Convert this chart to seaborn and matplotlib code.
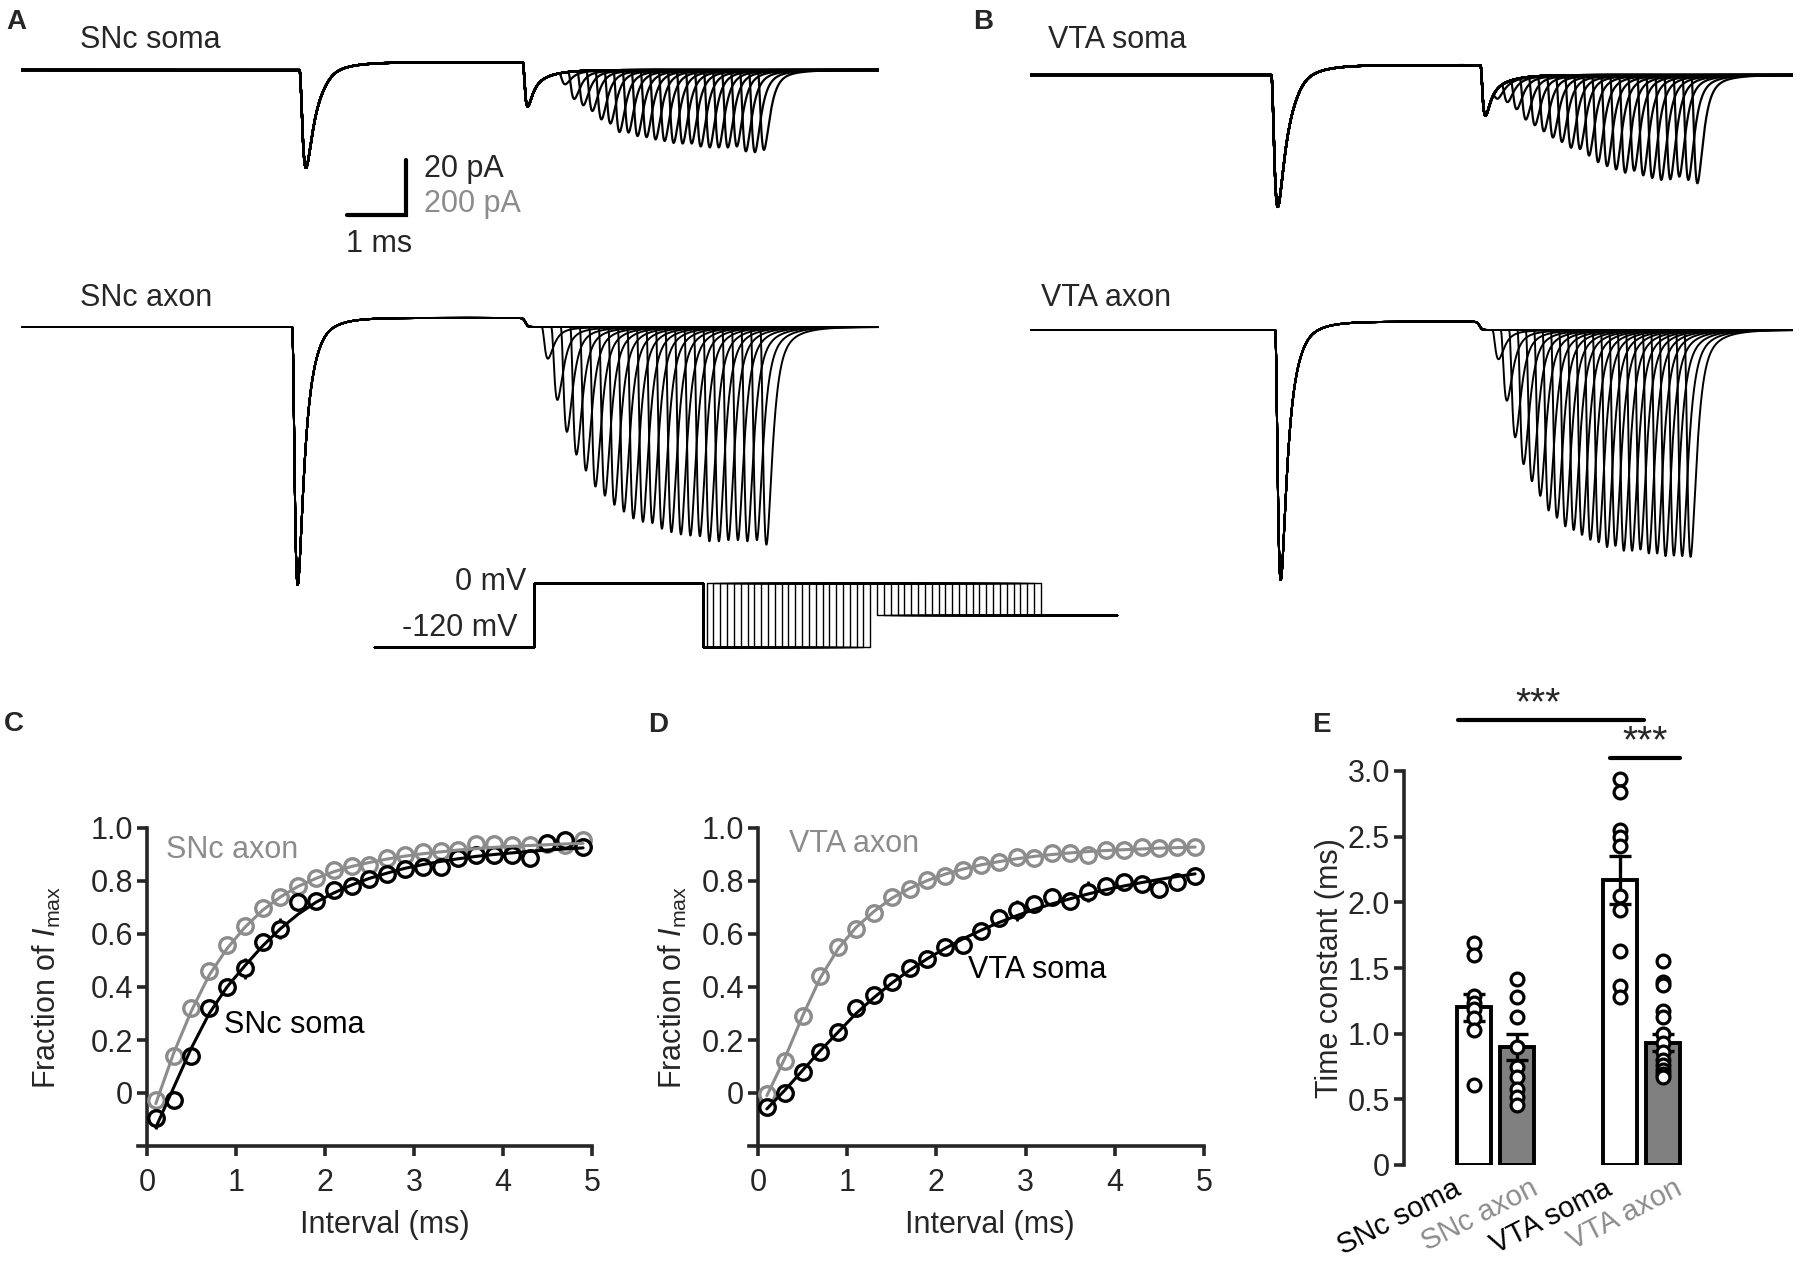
import numpy as np
import pandas as pd
import matplotlib
matplotlib.use("Agg")
import matplotlib.pyplot as plt
import seaborn as sns

# ------------------------------------------------------------------ data
interval_ms = [0.1, 0.3, 0.5, 0.7, 0.9, 1.1, 1.3, 1.5, 1.7, 1.9, 2.1, 2.3, 2.5,
               2.7, 2.9, 3.1, 3.3, 3.5, 3.7, 3.9, 4.1, 4.3, 4.5, 4.7, 4.9]

# panel C
snc_axon_frac = [-0.027, 0.139, 0.32, 0.46, 0.56, 0.63, 0.70, 0.74, 0.78, 0.81, 0.84, 0.855, 0.86,
                 0.885, 0.90, 0.91, 0.915, 0.918, 0.94, 0.94, 0.935, 0.935, 0.94, 0.935, 0.955]
snc_axon_sem = [0.015, 0.02, 0.02, 0.03, 0.02, 0.02, 0.015, 0.015, 0.015, 0.015, 0.01, 0.01, 0.01,
                0.01, 0.01, 0.01, 0.01, 0.01, 0.01, 0.01, 0.01, 0.01, 0.01, 0.01, 0.01]
snc_axon_fit = [-0.04, 0.15, 0.31, 0.445, 0.545, 0.625, 0.69, 0.74, 0.78, 0.81, 0.835, 0.855, 0.87,
                0.883, 0.894, 0.903, 0.91, 0.917, 0.922, 0.927, 0.931, 0.934, 0.937, 0.94, 0.942]
snc_soma_frac = [-0.095, -0.026, 0.138, 0.32, 0.40, 0.47, 0.57, 0.62, 0.72, 0.726, 0.767, 0.78, 0.807,
                 0.825, 0.847, 0.854, 0.854, 0.888, 0.90, 0.90, 0.90, 0.888, 0.945, 0.955, 0.928]
snc_soma_sem = [0.04, 0.02, 0.03, 0.02, 0.02, 0.04, 0.03, 0.04, 0.02, 0.02, 0.02, 0.02, 0.02,
                0.02, 0.02, 0.02, 0.02, 0.02, 0.02, 0.02, 0.02, 0.02, 0.02, 0.02, 0.02]
snc_soma_fit = [-0.13, 0.02, 0.17, 0.30, 0.40, 0.48, 0.555, 0.62, 0.675, 0.72, 0.755, 0.785, 0.81,
                0.83, 0.848, 0.862, 0.874, 0.884, 0.893, 0.90, 0.906, 0.912, 0.917, 0.921, 0.925]

# panel D
vta_axon_frac = [-0.005, 0.12, 0.29, 0.44, 0.55, 0.62, 0.68, 0.74, 0.77, 0.805, 0.82, 0.84, 0.86,
                 0.87, 0.89, 0.885, 0.905, 0.905, 0.90, 0.916, 0.916, 0.927, 0.925, 0.927, 0.93]
vta_axon_sem = [0.01] * 25
vta_axon_fit = [-0.01, 0.13, 0.29, 0.435, 0.545, 0.625, 0.685, 0.735, 0.772, 0.802, 0.826, 0.845, 0.861,
                0.873, 0.884, 0.893, 0.90, 0.906, 0.911, 0.915, 0.918, 0.921, 0.924, 0.926, 0.928]
vta_soma_frac = [-0.054, 0.0, 0.08, 0.155, 0.23, 0.32, 0.37, 0.42, 0.47, 0.505, 0.55, 0.56, 0.61,
                 0.66, 0.69, 0.715, 0.74, 0.725, 0.76, 0.78, 0.795, 0.79, 0.77, 0.795, 0.82]
vta_soma_sem = [0.02, 0.015, 0.015, 0.015, 0.015, 0.02, 0.02, 0.02, 0.02, 0.02, 0.02, 0.02, 0.02,
                0.03, 0.04, 0.03, 0.03, 0.02, 0.04, 0.03, 0.03, 0.03, 0.02, 0.03, 0.03]
vta_soma_fit = [-0.06, 0.01, 0.085, 0.16, 0.23, 0.30, 0.36, 0.415, 0.463, 0.507, 0.546, 0.582, 0.614,
                0.643, 0.669, 0.693, 0.714, 0.733, 0.751, 0.767, 0.781, 0.794, 0.806, 0.817, 0.827]

# panel E
tau_groups = ["SNc soma", "SNc axon", "VTA soma", "VTA axon"]
tau_snc_soma = [1.69, 1.60, 1.29, 1.23, 1.19, 1.12, 1.03, 0.61]
tau_snc_axon = [1.42, 1.28, 1.13, 0.90, 0.75, 0.67, 0.58, 0.52, 0.46]
tau_vta_soma = [2.94, 2.84, 2.55, 2.50, 2.43, 2.05, 1.94, 1.63, 1.36, 1.28]
tau_vta_axon = [1.55, 1.39, 1.37, 1.17, 1.13, 1.00, 0.93, 0.86, 0.80, 0.76, 0.72, 0.69, 0.67]
tau_mean = [1.20, 0.90, 2.17, 0.93]
tau_sem = [0.10, 0.10, 0.18, 0.065]
sig_label = "***"

trace_names = ["SNc soma", "SNc axon", "VTA soma", "VTA axon"]
trace_dur_ms = [14.54, 14.54, 12.93, 12.93]
cond_peak_ms = [4.83, 4.69, 4.20, 4.25]
cond_amp_pA = [35.6, 938.0, 48.0, 909.0]
cond_level_pA = [2.8, 33.0, 3.6, 30.0]
tail_ms = [8.58, 8.55, 7.71, 7.62]
tail_amp_pA = [14.5, 0.0, 16.4, 0.0]
test0_ms = [8.92, 8.77, 7.64, 7.80]
test_step_ms = [0.153, 0.161, 0.153, 0.1415]
test_imax_pA = [31.3, 829.0, 48.0, 887.0]
trace_fracs = [snc_soma_frac, snc_axon_frac, vta_soma_frac, vta_axon_frac]

# voltage protocol (schematic)
proto_levels_mV = [-120, 0, -60]
proto_hold_ms = 2.71
proto_cond_end_ms = 5.58
proto_interval_scale = 0.578
proto_test_ms = 2.89
proto_end_ms = 12.59

# ------------------------------------------------------------------ style
sns.set_style("ticks")
plt.rcParams["font.family"] = ["Liberation Sans", "DejaVu Sans"]
plt.rcParams["mathtext.fontset"] = "custom"
plt.rcParams["mathtext.rm"] = "Liberation Sans"
plt.rcParams["mathtext.it"] = "Liberation Sans:italic"

W, H = 1800, 1262
FS = 22
GRAY = "#8c8c8c"
GRAY_BAR = "#808080"
fig = plt.figure(figsize=(W / 100, H / 100), dpi=100)


def add_ax(x0, y0, x1, y1):
    return fig.add_axes([x0 / W, 1 - y1 / H, (x1 - x0) / W, (y1 - y0) / H])


def ftext(x, y, s, **kw):
    fig.text(x / W, 1 - y / H, s, **kw)


# ------------------------------------------------------------------ traces
def shape(s, tr, td, slow, ts):
    s = np.asarray(s, dtype=float)
    sp = np.clip(s, 0, None)
    g = (1 - np.exp(-sp / tr)) ** 3 * ((1 - slow) * np.exp(-sp / td) + slow * np.exp(-sp / ts))
    return np.where(s > 0, g, 0.0)


def current(t, t_peak, amp, tr, td, slow, ts):
    s = np.arange(0, 3, 0.0005)
    g = shape(s, tr, td, slow, ts)
    k = int(np.argmax(g))
    return -amp * shape(t - (t_peak - s[k]), tr, td, slow, ts) / g[k]


def sstep(x, w):
    return 0.5 * (1 + np.tanh(x / w))


PX_PER_MS = 59.0
trace_x0_px = [21, 21, 1030, 1030]
trace_base_px = [70, 327, 75, 330]
trace_px_per_pA = [2.75, 0.275, 2.75, 0.275]
trace_box_y = [(10, 240), (270, 615), (10, 240), (270, 615)]
trace_label_xy = [(80, 40), (80, 298), (1048, 40), (1041, 298)]
is_soma = [True, False, True, False]

trace_axes = []
for k in range(4):
    t = np.arange(0, trace_dur_ms[k], 0.004)
    parts = []
    for i, f in enumerate(trace_fracs[k]):
        I = cond_level_pA[k] * (sstep(t - (cond_peak_ms[k] + 0.35), 0.15) - sstep(t - tail_ms[k], 0.04))
        if is_soma[k]:
            I = I + current(t, cond_peak_ms[k], cond_amp_pA[k], 0.05, 0.12, 0.15, 0.35)
        else:
            I = I + current(t, cond_peak_ms[k], cond_amp_pA[k], 0.045, 0.10, 0.10, 0.30)
        if tail_amp_pA[k] > 0:
            I = I + current(t, tail_ms[k], tail_amp_pA[k], 0.03, 0.08, 0.25, 0.30)
        amp = max(f, 0.0) * test_imax_pA[k]
        if amp > 0:
            I = I + current(t, test0_ms[k] + i * test_step_ms[k], amp, 0.065, 0.085, 0.05, 0.3)
        parts.append(pd.DataFrame({"t": t, "I": I, "trace": i}))
    df = pd.concat(parts, ignore_index=True)
    x0 = trace_x0_px[k]
    x1 = x0 + trace_dur_ms[k] * PX_PER_MS
    ytop, ybot = trace_box_y[k]
    ax = add_ax(x0, ytop, x1, ybot)
    sns.lineplot(data=df, x="t", y="I", units="trace", estimator=None, sort=False,
                 color="black", linewidth=1.6 if is_soma[k] else 1.4, ax=ax, legend=False)
    ax.set_xlim(0, trace_dur_ms[k])
    base, ppa = trace_base_px[k], trace_px_per_pA[k]
    ax.set_ylim((base - ybot) / ppa, (base - ytop) / ppa)
    ax.axis("off")
    trace_axes.append(ax)
    lx, ly = trace_label_xy[k]
    ftext(lx, ly, trace_names[k], fontsize=FS, va="center", ha="left")

# scale bar (in SNc soma axes units)
axs = trace_axes[0]
sb_t = (406 - 21) / PX_PER_MS
sb_y0 = -(215 - 70) / 2.75
axs.plot([sb_t - 1.0, sb_t, sb_t], [sb_y0, sb_y0, sb_y0 + 20], color="black", lw=3.0,
         solid_joinstyle="miter", clip_on=False)
ftext(424, 169, "20 pA", fontsize=FS, va="center", ha="left")
ftext(424, 204, "200 pA", fontsize=FS, va="center", ha="left", color=GRAY)
ftext(346, 244, "1 ms", fontsize=FS, va="center", ha="left")

# voltage protocol
P0 = 374
pax = add_ax(360, 570, 1130, 662)
rows = []
for i, iv in enumerate(interval_ms):
    a = proto_hold_ms
    b = proto_cond_end_ms
    on = b + iv * proto_interval_scale
    off = on + proto_test_ms
    tt = [0, a, a, b, b, on, on, off, off, proto_end_ms]
    vv = [proto_levels_mV[0], proto_levels_mV[0], proto_levels_mV[1], proto_levels_mV[1],
          proto_levels_mV[0], proto_levels_mV[0], proto_levels_mV[1], proto_levels_mV[1],
          proto_levels_mV[2], proto_levels_mV[2]]
    rows.append(pd.DataFrame({"t": tt, "v": vv, "trace": i}))
pdf = pd.concat(rows, ignore_index=True)
sns.lineplot(data=pdf, x="t", y="v", units="trace", estimator=None, sort=False,
             color="black", linewidth=1.0, ax=pax, legend=False)
pax.set_xlim((360 - P0) / PX_PER_MS, (1130 - P0) / PX_PER_MS)
pax.set_ylim(-120 - (662 - 647) / 0.5333, 0 + (583 - 570) / 0.5333)
pax.axis("off")
ftext(526, 582, "0 mV", fontsize=FS, va="center", ha="right")
ftext(517, 628, "-120 mV", fontsize=FS, va="center", ha="right")


# ------------------------------------------------------------------ C / D
def recovery(ax, fa, sa, fita, fs, ss, fits, lab_a, lab_s, pos_a, pos_s):
    ax.errorbar(interval_ms, fa, yerr=sa, fmt="none", ecolor=GRAY, elinewidth=2.0, capsize=0, zorder=2)
    ax.errorbar(interval_ms, fs, yerr=ss, fmt="none", ecolor="black", elinewidth=2.0, capsize=0, zorder=2)
    sns.scatterplot(x=interval_ms, y=fa, marker="o", s=125, color=GRAY, facecolor="white",
                    edgecolor=GRAY, linewidth=2.4, ax=ax, zorder=3, clip_on=False)
    sns.scatterplot(x=interval_ms, y=fs, marker="o", s=125, color="black", facecolor="white",
                    edgecolor="black", linewidth=2.4, ax=ax, zorder=4, clip_on=False)
    sns.lineplot(x=interval_ms, y=fita, color=GRAY, linewidth=2.2, ax=ax, zorder=5)
    sns.lineplot(x=interval_ms, y=fits, color="black", linewidth=2.2, ax=ax, zorder=6)
    ax.set_xlim(-0.1, 5.0)
    ax.set_ylim(-0.2, 1.0)
    sns.despine(ax=ax)
    ax.spines["left"].set_position(("data", 0))
    for sp in ("left", "bottom"):
        ax.spines[sp].set_linewidth(2.6)
    ax.set_xticks([0, 1, 2, 3, 4, 5])
    ax.set_yticks([0, 0.2, 0.4, 0.6, 0.8, 1.0])
    ax.set_yticklabels(["0", "0.2", "0.4", "0.6", "0.8", "1.0"])
    ax.tick_params(axis="both", direction="out", length=7, width=2.6, labelsize=FS)
    ax.tick_params(axis="y", pad=3)
    ax.tick_params(axis="x", pad=9)
    ax.set_xlabel("Interval (ms)", fontsize=FS)
    ax.set_ylabel("Fraction of $\\mathit{I}_{\\mathrm{max}}$", fontsize=FS)
    ax.text(pos_a[0], pos_a[1], lab_a, color=GRAY, fontsize=FS, va="center", ha="left")
    ax.text(pos_s[0], pos_s[1], lab_s, color="black", fontsize=FS, va="center", ha="left")


axC = add_ax(138, 828, 592, 1146)
recovery(axC, snc_axon_frac, snc_axon_sem, snc_axon_fit, snc_soma_frac, snc_soma_sem, snc_soma_fit,
         "SNc axon", "SNc soma", (0.21, 0.917), (0.87, 0.256))
axC.yaxis.set_label_coords(-0.165, 0.5)
axC.xaxis.set_label_coords(0.544, -0.2)

axD = add_ax(749, 828, 1204, 1146)
recovery(axD, vta_axon_frac, vta_axon_sem, vta_axon_fit, vta_soma_frac, vta_soma_sem, vta_soma_fit,
         "VTA axon", "VTA soma", (0.35, 0.94), (2.36, 0.465))
axD.yaxis.set_label_coords(-0.132, 0.5)
axD.xaxis.set_label_coords(0.53, -0.2)

# ------------------------------------------------------------------ E
axE = add_ax(1404, 771, 1685, 1165)
bar_pos = [0, 1, 3.4, 4.4]
sns.barplot(x=bar_pos, y=tau_mean, native_scale=True, width=0.79, color="white",
            edgecolor="black", linewidth=2.8, errorbar=None, ax=axE, zorder=1)
bar_fc = ["white", GRAY_BAR, "white", GRAY_BAR]
for p, fc in zip(axE.patches, bar_fc):
    p.set_facecolor(fc)
axE.errorbar(bar_pos, tau_mean, yerr=tau_sem, fmt="none", ecolor="black", elinewidth=2.4,
             capsize=8, capthick=2.4, zorder=2)
xs, ys = [], []
for p, vals in zip(bar_pos, [tau_snc_soma, tau_snc_axon, tau_vta_soma, tau_vta_axon]):
    xs += [p] * len(vals)
    ys += list(vals)
sns.scatterplot(x=xs, y=ys, marker="o", s=85, color="black", facecolor="white", edgecolor="black",
                linewidth=2.3, ax=axE, zorder=3, clip_on=False)
axE.set_xlim(-1.63, 4.9)
axE.set_ylim(0, 3.0)
sns.despine(ax=axE, bottom=True)
axE.spines["left"].set_linewidth(2.6)
axE.set_yticks([0, 0.5, 1.0, 1.5, 2.0, 2.5, 3.0])
axE.set_yticklabels(["0", "0.5", "1.0", "1.5", "2.0", "2.5", "3.0"])
axE.tick_params(axis="y", direction="out", length=7, width=2.6, labelsize=FS, pad=3)
axE.set_xticks([])
label_anchor_x = [-0.50, 1.29, 3.01, 4.64]
for xa, lab, c in zip(label_anchor_x, tau_groups, ["black", GRAY, "black", GRAY]):
    axE.text(xa, -0.07, lab, rotation=27, rotation_mode="anchor", ha="right", va="top",
             fontsize=21, color=c, clip_on=False)
axE.set_ylabel("Time constant (ms)", fontsize=FS)
axE.yaxis.set_label_coords(-0.21, 0.5)
axE.plot([-0.37, 3.95], [3.39, 3.39], color="black", lw=3.0, clip_on=False)
axE.text(1.49, 3.43, sig_label, ha="center", va="baseline", fontsize=28, clip_on=False)
axE.plot([3.16, 4.79], [3.10, 3.10], color="black", lw=3.0, clip_on=False)
axE.text(3.98, 3.14, sig_label, ha="center", va="baseline", fontsize=28, clip_on=False)

# ------------------------------------------------------------------ panel letters
for letter, (x, y) in zip("ABCDE", [(6, 9), (973, 9), (4, 711), (648, 712), (1312, 712)]):
    ftext(x, y, letter, fontsize=20, fontweight="bold", va="top", ha="left")

fig.savefig("out.png", dpi=100)
